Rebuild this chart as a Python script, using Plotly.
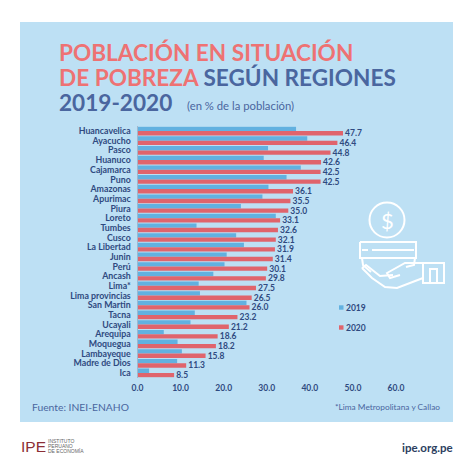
import plotly.graph_objects as go

regions = ["Huancavelica","Ayacucho","Pasco","Huanuco","Cajamarca","Puno","Amazonas","Apurimac","Piura","Loreto","Tumbes","Cusco","La Libertad","Junin","Perú","Ancash","Lima*","Lima provincias","San Martin","Tacna","Ucayali","Arequipa","Moquegua","Lambayeque","Madre de Dios","Ica"]
values_2019 = [36.8,39.4,30.3,29.3,37.9,34.6,30.4,29.0,24.0,32.1,13.7,22.9,24.7,20.7,20.2,17.6,14.2,14.5,25.3,13.3,12.3,6.1,9.3,10.3,9.2,2.7]
values_2020 = [47.7,46.4,44.8,42.6,42.5,42.5,36.1,35.5,35.0,33.1,32.6,32.1,31.9,31.4,30.1,29.8,27.5,26.5,26.0,23.2,21.2,18.6,18.2,15.8,11.3,8.5]
x_ticks = [0,10,20,30,40,50,60]

W = H = 474
NAVY = "#2f4a80"
BLUE_T = "#4a669f"
RED_T = "#ee7273"
C19 = "#62b1e0"
C20 = "#e0646c"
BG = "#bde0f4"
FONT = "Lato, 'Open Sans', sans-serif"

def px(x): return x / W
def py(y): return 1 - y / H

fig = go.Figure()
fig.add_bar(y=regions, x=values_2019, name="2019", orientation="h", marker_color=C19, showlegend=False)
fig.add_bar(y=regions, x=values_2020, name="2020", orientation="h", marker_color=C20,
            text=[f"\u00a0{v:.1f}" for v in values_2020], textposition="outside", cliponaxis=False, constraintext="none",
            textfont=dict(family=FONT, size=8.5, color=NAVY, weight="bold"), showlegend=False)

fig.update_layout(
    template="none",
    width=W, height=H, autosize=False, margin=dict(l=0, r=0, t=0, b=0, pad=0),
    paper_bgcolor="white", plot_bgcolor="rgba(0,0,0,0)", barmode="group", bargap=0.1, bargroupgap=0,
    xaxis=dict(domain=[px(137.5), px(396)], range=[0,60], tickmode="array", tickvals=x_ticks, ticktext=[f"{v:.1f}" for v in x_ticks],
               showgrid=False, zeroline=False, showline=False, anchor="y", ticks="", automargin=False, ticklabelstandoff=4,
               tickfont=dict(family=FONT, size=8.5, color=NAVY, weight="bold")),
    yaxis=dict(domain=[py(377.8), py(126.2)], autorange="reversed", categoryorder="array", categoryarray=regions,
               tickmode="array", tickvals=regions, ticktext=regions, automargin=False,
               showgrid=False, zeroline=False, showline=True, linecolor="#9fb8cf", linewidth=1, ticks="",
               tickfont=dict(family=FONT, size=8.8, color=NAVY, weight="bold"), ticklabelstandoff=4),
)

shapes = [dict(type="rect", xref="paper", yref="paper", x0=px(20), x1=px(453), y0=py(422), y1=py(22),
               fillcolor=BG, line_width=0, layer="below")]

# legend swatches
for yy, c in ((307.5, C19), (327.5, C20)):
    shapes.append(dict(type="rect", xref="paper", yref="paper", x0=px(339), x1=px(343.5), y0=py(yy+2.2), y1=py(yy-2.2), fillcolor=c, line_width=0))

# icon: coin, hand, bill, drawn with white outline
def P(points):
    return "M" + " L".join(f"{px(x):.5f},{py(y):.5f}" for x, y in points)
WH = dict(color="white", width=2)
shapes.append(dict(type="circle", xref="paper", yref="paper", x0=px(369.5), x1=px(404.5), y0=py(237.5), y1=py(202.5), line=WH))
for pts in [
    [(360,242),(416,242),(416,258),(360,258),(360,242)],
    [(362,258),(363,265),(371,272)],
    [(415,258),(414,265),(406,267)],
    [(362,250),(368,250)],
    [(372,250),(414,250)],
    [(362,268),(372,278),(385,287),(397,288),(423,278)],
    [(362,268),(366,265),(380,276),(393,275)],
    [(400,275),(390,278),(387,273),(405,263),(423,263)],
    [(423,263),(444,263),(444,283),(423,283),(423,263)],
    [(430,283),(430,269),(437,269),(437,283)],
]:
    shapes.append(dict(type="path", xref="paper", yref="paper", path=P(pts), line=WH))

fig.update_layout(shapes=shapes)

def T(x, y, text, size, color, anchor="left", weight="normal", family=FONT):
    fig.add_annotation(xref="paper", yref="paper", x=px(x), y=py(y), text=text, showarrow=False, xanchor=anchor, yanchor="middle",
                       font=dict(family=family, size=size, color=color, weight=weight), borderpad=0, borderwidth=0)

T(59, 53, "POBLACIÓN EN SITUACIÓN", 22.6, RED_T, weight="bold")
T(59, 77, f"DE POBREZA <span style='color:{BLUE_T}'>SEGÚN REGIONES</span>", 22.6, RED_T, weight="bold")
T(59, 102, "2019-2020", 22.6, BLUE_T, weight="bold")
T(187, 105.5, "(en % de la población)", 11.3, BLUE_T)
T(345.5, 307.5, "2019", 8.5, NAVY, weight="bold")
T(345.5, 327.5, "2020", 8.5, NAVY, weight="bold")
T(32, 407, "Fuente: INEI-ENAHO", 10.3, BLUE_T)
T(440, 407, "*Lima Metropolitana y Callao", 8.3, BLUE_T, anchor="right")
T(20.5, 446, "IPE", 15.5, "#8c2f36", family="Liberation Sans")
for yy, line in ((441, "INSTITUTO"), (446, "PERUANO"), (451, "DE ECONOMÍA")):
    T(47.5, yy, line, 5, "#666666", family="Liberation Sans")
T(453, 447, "ipe.org.pe", 11.5, "#2c4060", anchor="right", weight="bold")

# dollar sign in coin
T(387, 220, "$", 22, "white", anchor="center")

fig.write_html("out.html", post_script="document.body.style.margin='0';", config={"displayModeBar": False})
